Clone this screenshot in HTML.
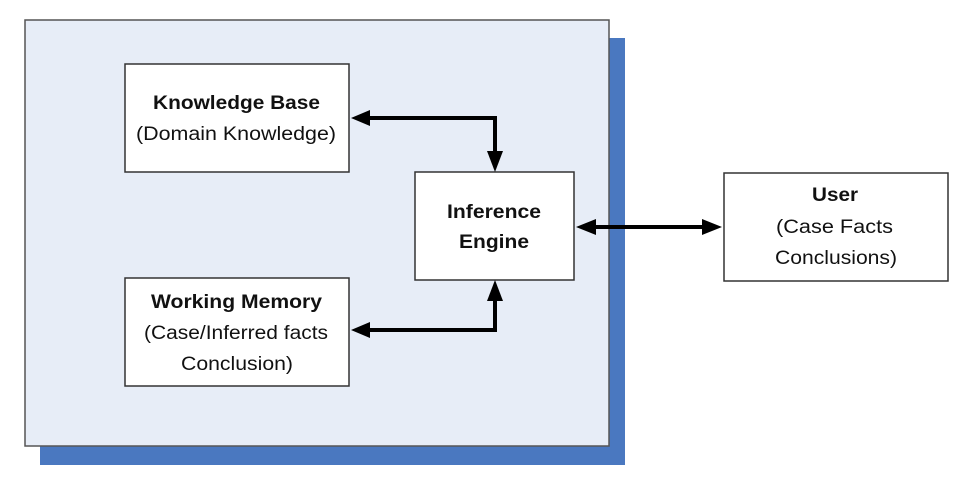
<!DOCTYPE html>
<html><head><meta charset="utf-8"><style>
html,body{margin:0;padding:0;background:#fff;}
svg{display:block;}
text{font-family:"Liberation Sans",sans-serif;fill:#111;}
</style></head><body>
<svg width="969" height="485" viewBox="0 0 969 485" xmlns="http://www.w3.org/2000/svg">
<rect x="40" y="38" width="585" height="427" fill="#4a78c0"/>
<rect x="25" y="20" width="584" height="426" fill="#e7edf7" stroke="#555" stroke-width="1.5"/>
<rect x="125" y="64" width="224" height="108" fill="#fff" stroke="#333" stroke-width="1.5"/>
<rect x="125" y="278" width="224" height="108" fill="#fff" stroke="#333" stroke-width="1.5"/>
<rect x="415" y="172" width="159" height="108" fill="#fff" stroke="#333" stroke-width="1.5"/>
<rect x="724" y="173" width="224" height="108" fill="#fff" stroke="#333" stroke-width="1.5"/>
<g stroke="#000" stroke-width="4" fill="none">
<polyline points="368,118 495,118 495,152"/>
<polyline points="368,330 495,330 495,298"/>
<line x1="593" y1="227" x2="705" y2="227"/>
</g>
<g fill="#000">
<polygon points="351,118 370,110 370,126"/>
<polygon points="495,172 487,151 503,151"/>
<polygon points="351,330 370,322 370,338"/>
<polygon points="495,280 487,301 503,301"/>
<polygon points="576,227 596,219 596,235"/>
<polygon points="722,227 702,219 702,235"/>
</g>
<g font-size="19">
<text x="153" y="109" font-weight="bold" textLength="167" lengthAdjust="spacingAndGlyphs">Knowledge Base</text>
<text x="136" y="140" textLength="200" lengthAdjust="spacingAndGlyphs">(Domain Knowledge)</text>
<text x="151" y="308" font-weight="bold" textLength="171" lengthAdjust="spacingAndGlyphs">Working Memory</text>
<text x="144" y="339" textLength="184" lengthAdjust="spacingAndGlyphs">(Case/Inferred facts</text>
<text x="181" y="370" textLength="112" lengthAdjust="spacingAndGlyphs">Conclusion)</text>
<text x="447" y="218" font-weight="bold" textLength="94" lengthAdjust="spacingAndGlyphs">Inference</text>
<text x="459" y="248" font-weight="bold" textLength="70" lengthAdjust="spacingAndGlyphs">Engine</text>
<text x="812" y="201" font-weight="bold" textLength="46" lengthAdjust="spacingAndGlyphs">User</text>
<text x="776" y="233" textLength="117" lengthAdjust="spacingAndGlyphs">(Case Facts</text>
<text x="775" y="264" textLength="122" lengthAdjust="spacingAndGlyphs">Conclusions)</text>
</g>
</svg>
</body></html>
